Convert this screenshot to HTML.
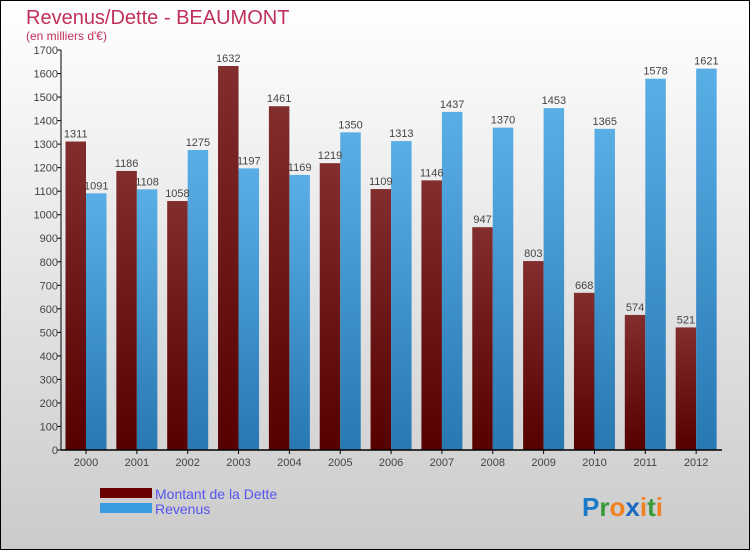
<!DOCTYPE html>
<html><head><meta charset="utf-8"><style>
body{margin:0}
#c{width:750px;height:550px;position:relative;box-sizing:border-box;border:1px solid #000;background:linear-gradient(#ffffff,#cbcbcb);font-family:"Liberation Sans",sans-serif;overflow:hidden}
</style></head><body>
<div id="c">
<svg width="750" height="550" style="position:absolute;left:-1px;top:-1px" id="s">
<defs>
<linearGradient id="gd" x1="0" y1="0" x2="0" y2="1"><stop offset="0" stop-color="#822e2e"/><stop offset="1" stop-color="#560000"/></linearGradient>
<linearGradient id="gr" x1="0" y1="0" x2="0" y2="1"><stop offset="0" stop-color="#5aaee6"/><stop offset="1" stop-color="#2878b2"/></linearGradient>
</defs>
<text x="26" y="24" font-size="20" fill="#c0305a">Revenus/Dette - BEAUMONT</text>
<text x="26" y="40" font-size="12" fill="#c0305a">(en milliers d'€)</text>
<g id="plot"></g>
<rect x="100" y="528" width="0" height="0"/>
<rect x="100" y="488" width="52" height="10" fill="#6a0000"/>
<rect x="100" y="503" width="52" height="10" fill="#3a9ce0"/>
<text x="155" y="499" font-size="14" fill="#5555ee">Montant de la Dette</text>
<text x="155" y="514" font-size="14" fill="#5555ee">Revenus</text>
<text x="582" y="516" font-size="26" font-weight="bold"><tspan fill="#1a7ac8">P</tspan><tspan fill="#3a9a3a">r</tspan><tspan fill="#f08020">o</tspan><tspan fill="#1a6ac0">x</tspan><tspan fill="#f08020">i</tspan><tspan fill="#3a9a3a">t</tspan><tspan fill="#f08020">i</tspan></text>
</svg>
</div>
<script>
const years=["2000","2001","2002","2003","2004","2005","2006","2007","2008","2009","2010","2011","2012"];
const dette=[1311,1186,1058,1632,1461,1219,1109,1146,947,803,668,574,521];
const revenus=[1091,1108,1275,1197,1169,1350,1313,1437,1370,1453,1365,1578,1621];
const yTicks=[0,100,200,300,400,500,600,700,800,900,1000,1100,1200,1300,1400,1500,1600,1700];
const NS="http://www.w3.org/2000/svg";
const g=document.getElementById('plot');
const x0=61,x1=722,yb=450,yt=50,ymax=1700;
const slot=(x1-x0)/years.length;
const y=v=>yb-(v/ymax)*(yb-yt);
function mk(t,a){const e=document.createElementNS(NS,t);for(const k in a)e.setAttribute(k,a[k]);g.appendChild(e);return e;}
yTicks.forEach(v=>{
 const l=mk('line',{x1:x0-4,x2:x0,y1:y(v),y2:y(v),stroke:'#000'});
 
 
 const t=mk('text',{x:x0-3,y:y(v)+4,'text-anchor':'end','font-size':11,fill:'#444'});
 t.textContent=v;
 
 
});
years.forEach((yr,i)=>{
 const sx=x0+i*slot, bw=20.5;
 const a=mk('rect',{x:sx+4.5,y:y(dette[i]),width:bw,height:yb-y(dette[i]),fill:'url(#gd)'});
 
 
 const b=mk('rect',{x:sx+4.5+bw,y:y(revenus[i]),width:bw,height:yb-y(revenus[i]),fill:'url(#gr)'});
 
 
 const t1=mk('text',{x:sx+4.5+bw/2,y:y(dette[i])-4,'text-anchor':'middle','font-size':11,fill:'#444'});
 t1.textContent=dette[i];
 
 
 const t2=mk('text',{x:sx+4.5+bw*1.5,y:y(revenus[i])-4,'text-anchor':'middle','font-size':11,fill:'#444'});
 t2.textContent=revenus[i];
 
 
 const tk=mk('line',{x1:sx+4.5+bw,x2:sx+4.5+bw,y1:yb,y2:yb+4,stroke:'#000'});
 
 
 const xl=mk('text',{x:sx+4.5+bw,y:yb+16,'text-anchor':'middle','font-size':11,fill:'#444'});
 xl.textContent=yr;
 
 
});
const ya=mk('line',{x1:x0,x2:x0,y1:yt,y2:yb,stroke:'#000'});


const xa=mk('line',{x1:x0,x2:x1,y1:yb,y2:yb,stroke:'#000','stroke-width':1.5});


</script>
</body></html>
